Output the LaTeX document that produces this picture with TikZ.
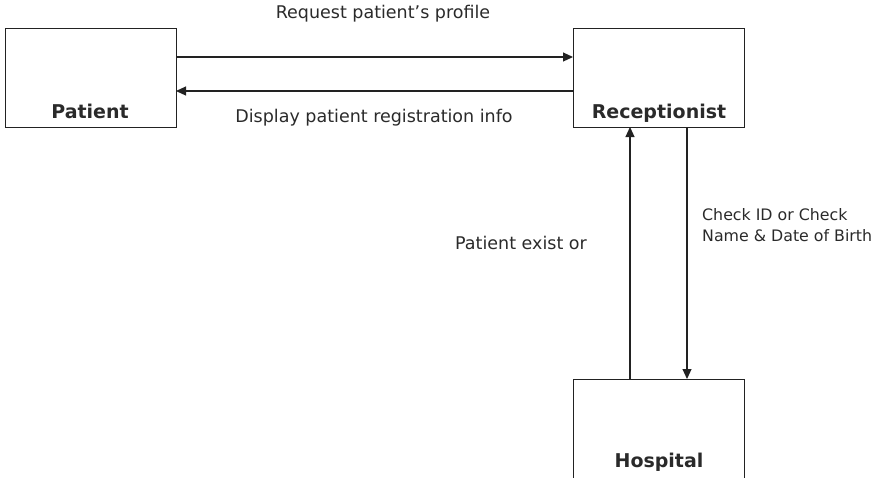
\documentclass[tikz,border=0pt]{standalone}
\usepackage{fontspec}
\setmainfont{DejaVu Sans}
\usetikzlibrary{arrows.meta}
\definecolor{ink}{HTML}{222222}
\definecolor{txt}{HTML}{2A2A2A}
\tikzset{
  ent/.style={draw=ink, line width=1.1pt, minimum width=171pt, minimum height=99pt, inner sep=0pt, anchor=north west},
  entlabel/.style={font=\fontsize{19}{22}\selectfont\bfseries, text=txt, inner sep=0pt, anchor=base},
  flow/.style={draw=ink, line width=1.1pt, -{Triangle[length=10pt,width=9pt]}},
  lbl/.style={font=\fontsize{17.5}{22}\selectfont, text=txt, inner sep=0pt},
}
\begin{document}
\begin{tikzpicture}[x=1pt,y=-1pt]
\useasboundingbox (0,0) rectangle (878,477);
\clip (0,0) rectangle (878,477);
\node[ent] (pat) at (5,28) {};
\node[ent] (rec) at (573,28) {};
\node[ent, minimum height=120pt] (hos) at (573,379) {};
\node[entlabel] (patl) at (90,118) {Patient};
\node[entlabel] (recl) at (659,118) {Receptionist};
\node[entlabel] (hosl) at (659,467) {Hospital};
\coordinate (a1s) at (176,57);
\coordinate (a1e) at (573,57);
\coordinate (a2s) at (573,91);
\coordinate (a2e) at (176,91);
\coordinate (a3s) at (630,379);
\coordinate (a3e) at (630,127);
\coordinate (a4s) at (687,127);
\coordinate (a4e) at (687,379);
\draw[flow] (a1s) -- (a1e);
\draw[flow] (a2s) -- (a2e);
\draw[flow] (a3s) -- (a3e);
\draw[flow] (a4s) -- (a4e);
\node[lbl] (t1) at (383,14) {Request patient’s profile};
\node[lbl] (t2) at (374,118) {Display patient registration info};
\node[lbl] (t3) at (521,243) {Patient exist or};
\node[lbl, font=\fontsize{15.8}{21}\selectfont, anchor=west, align=left] (t4) at (702,225) {Check ID or Check\\Name \& Date of Birth};
\end{tikzpicture}
\end{document}
